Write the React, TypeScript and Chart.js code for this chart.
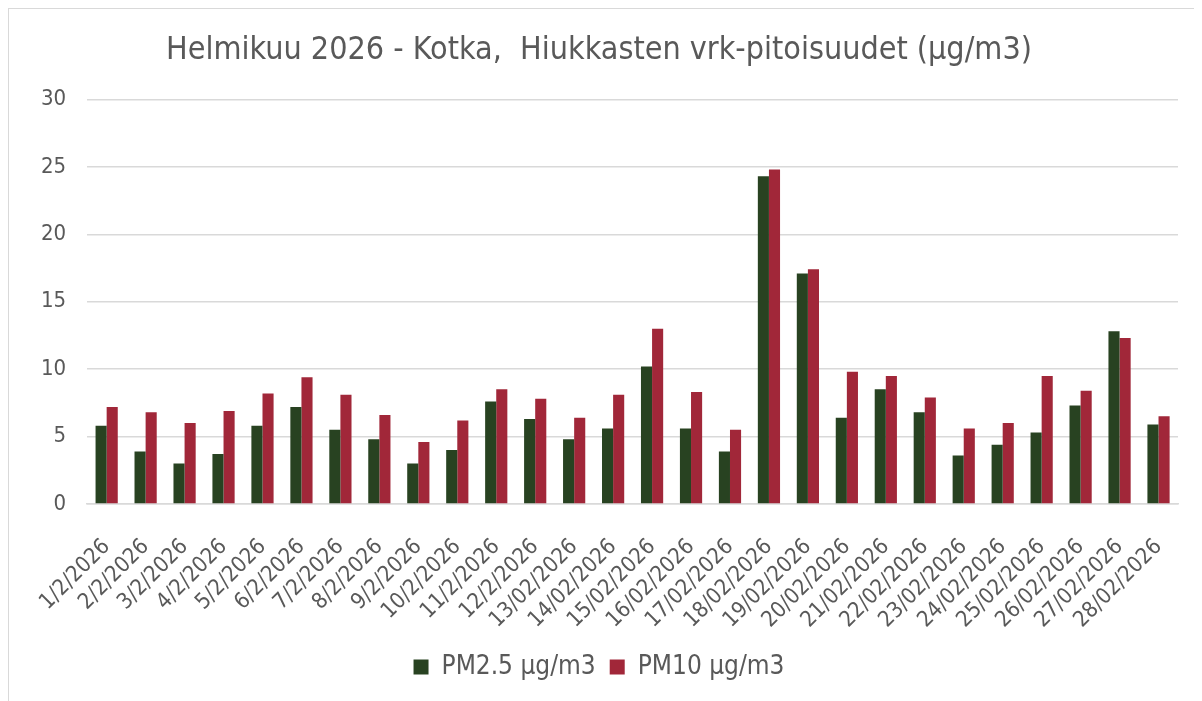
import React, { useEffect, useRef } from "react";
import { Chart, registerables } from "chart.js";

Chart.register(...registerables);

const categories = [
  "1/2/2026", "2/2/2026", "3/2/2026", "4/2/2026", "5/2/2026", "6/2/2026", "7/2/2026",
  "8/2/2026", "9/2/2026", "10/2/2026", "11/2/2026", "12/2/2026", "13/02/2026", "14/02/2026",
  "15/02/2026", "16/02/2026", "17/02/2026", "18/02/2026", "19/02/2026", "20/02/2026",
  "21/02/2026", "22/02/2026", "23/02/2026", "24/02/2026", "25/02/2026", "26/02/2026",
  "27/02/2026", "28/02/2026",
];

const pm25 = [
  5.8, 3.9, 3.0, 3.7, 5.8, 7.2, 5.5, 4.8, 3.0, 4.0,
  7.6, 6.3, 4.8, 5.6, 10.2, 5.6, 3.9, 24.3, 17.1, 6.4,
  8.5, 6.8, 3.6, 4.4, 5.3, 7.3, 12.8, 5.9,
];

const pm10 = [
  7.2, 6.8, 6.0, 6.9, 8.2, 9.4, 8.1, 6.6, 4.6, 6.2,
  8.5, 7.8, 6.4, 8.1, 13.0, 8.3, 5.5, 24.8, 17.4, 9.8,
  9.5, 7.9, 5.6, 6.0, 9.5, 8.4, 12.3, 6.5,
];

const seriesNames = ["PM2.5 µg/m3", "PM10 µg/m3"];
const titleText = "Helmikuu 2026 - Kotka,  Hiukkasten vrk-pitoisuudet (µg/m3)";
const yTicks = [0, 5, 10, 15, 20, 25, 30];

const FONT = "'DejaVu Sans Condensed', 'DejaVu Sans', sans-serif";
const TEXT = "#595959";

export default function App() {
  const ref = useRef<HTMLCanvasElement | null>(null);

  useEffect(() => {
    if (!ref.current) return;
    const chart = new Chart(ref.current, {
      type: "bar",
      data: {
        labels: categories,
        datasets: [
          {
            label: seriesNames[0],
            data: pm25,
            backgroundColor: "#284221",
            categoryPercentage: 0.57,
            barPercentage: 1,
          },
          {
            label: seriesNames[1],
            data: pm10,
            backgroundColor: "#A12739",
            categoryPercentage: 0.57,
            barPercentage: 1,
          },
        ],
      },
      options: {
        responsive: false,
        animation: false,
        devicePixelRatio: 1,
        layout: { padding: { left: 11, right: 24, top: 6, bottom: 11 } },
        plugins: {
          title: {
            display: true,
            text: titleText,
            color: TEXT,
            font: { family: FONT, size: 32, weight: "normal" },
            padding: { top: 16, bottom: 30 },
          },
          legend: {
            position: "bottom",
            labels: {
              color: TEXT,
              font: { family: FONT, size: 26 },
              boxWidth: 15,
              boxHeight: 15,
              padding: 14,
            },
          },
          tooltip: { enabled: false },
        },
        scales: {
          x: {
            grid: { display: false },
            border: { color: "#d9d9d9", width: 1.5 },
            afterFit: (scale: any) => {
              scale.height = 136;
            },
            ticks: {
              color: TEXT,
              font: { family: FONT, size: 22 },
              maxRotation: 45,
              minRotation: 45,
              autoSkip: false,
              padding: 22,
            },
          },
          y: {
            min: 0,
            max: 30,
            afterBuildTicks: (axis: any) => {
              axis.ticks = yTicks.map((v) => ({ value: v }));
            },
            grid: { color: "#d9d9d9", lineWidth: 1.5, drawTicks: false },
            border: { display: false },
            ticks: {
              color: TEXT,
              font: { family: FONT, size: 22 },
              padding: 21,
            },
          },
        },
      },
    });
    return () => chart.destroy();
  }, []);

  return (
    <div
      style={{
        width: 1194,
        height: 693,
        borderLeft: "1px solid #d9d9d9",
        borderTop: "1px solid #d9d9d9",
        boxSizing: "border-box",
        overflow: "hidden",
      }}
    >
      <canvas ref={ref} width={1193} height={692} style={{ display: "block" }} />
    </div>
  );
}
